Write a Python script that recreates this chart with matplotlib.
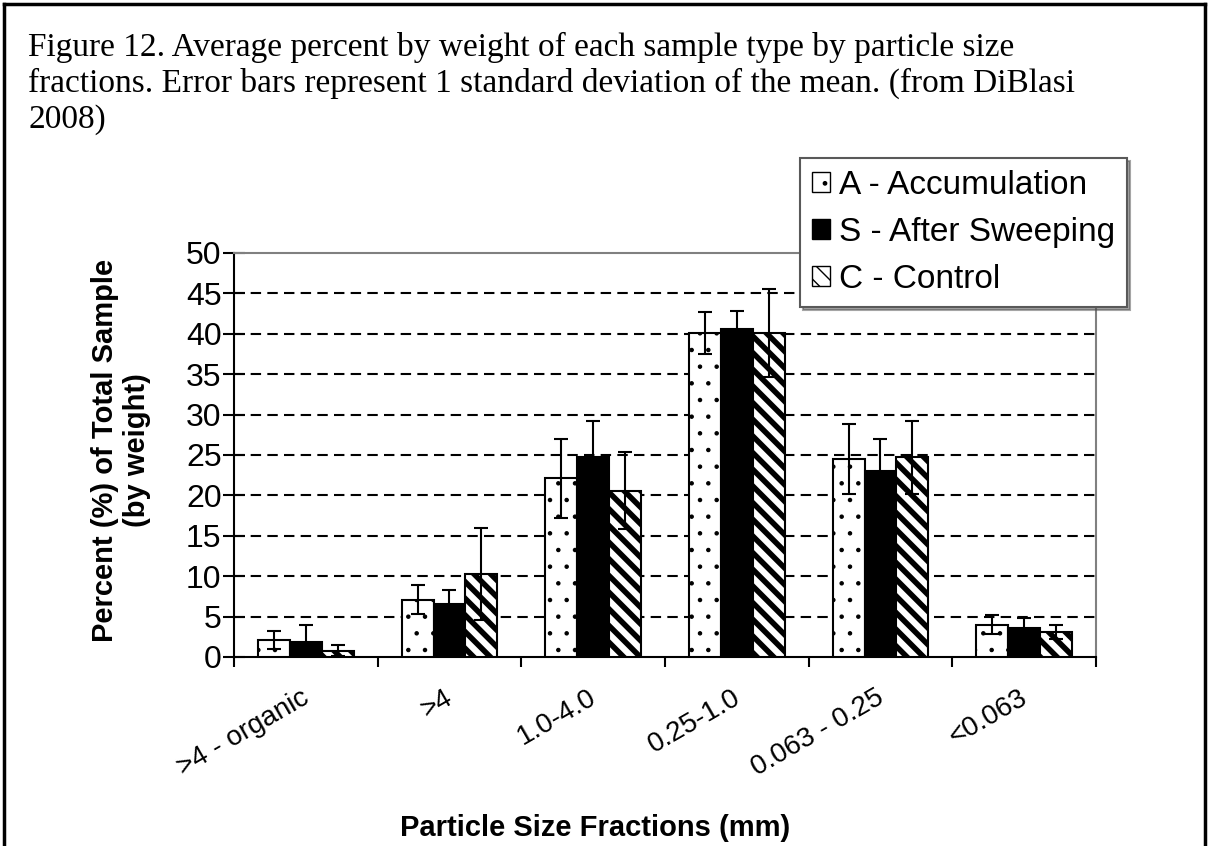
import numpy as np
import matplotlib.pyplot as plt
import matplotlib.transforms as mtransforms
from matplotlib.patches import Patch

# particle size fractions (mm)
categories = [">4 - organic", ">4", "1.0-4.0", "0.25-1.0", "0.063 - 0.25", "<0.063"]

accum = [2.1, 7.1, 22.1, 40.1, 24.5, 4.0]
accum_sd = [1.1, 1.8, 4.9, 2.6, 4.3, 1.2]
sweep = [1.9, 6.6, 24.7, 40.6, 23.0, 3.6]
sweep_sd = [2.0, 1.7, 4.5, 2.2, 4.0, 1.2]
control = [0.8, 10.3, 20.6, 40.1, 24.7, 3.1]
control_sd = [0.7, 5.7, 4.8, 5.4, 4.5, 0.9]

series_names = ["A - Accumulation", "S - After Sweeping", "C - Control"]

plt.rcParams['font.family'] = ['Liberation Sans', 'DejaVu Sans']

fig = plt.figure(figsize=(12.09, 8.46), dpi=100)
ax = fig.add_axes([234 / 1209, 1 - 657 / 846, 862 / 1209, 404 / 846])

x = np.arange(len(categories))
w = 1 / 4.5
err_kw = dict(ecolor='black', elinewidth=1.5, capsize=5, capthick=1.5)

b1 = ax.bar(x - w, accum, w, yerr=accum_sd, color='white', edgecolor='black',
            linewidth=1.5, hatch='.', error_kw=err_kw, zorder=3)
b2 = ax.bar(x, sweep, w, yerr=sweep_sd, color='black', edgecolor='black',
            linewidth=1.5, error_kw=err_kw, zorder=3)
b3 = ax.bar(x + w, control, w, yerr=control_sd, color='white', edgecolor='black',
            linewidth=1.5, hatch='\\\\', error_kw=err_kw, zorder=3)
for p in b1:
    if hasattr(p, 'set_hatch_linewidth'):
        p.set_hatch_linewidth(0.8)
for p in b3:
    if hasattr(p, 'set_hatch_linewidth'):
        p.set_hatch_linewidth(4.0)

ax.set_xlim(-0.5, len(categories) - 0.5)
ax.set_ylim(0, 50)
ax.set_yticks(np.arange(0, 51, 5))
ax.tick_params(axis='y', direction='inout', length=16, width=1.5, labelsize=23, pad=1)

ax.set_xticks(x)
ax.set_xticklabels(categories, rotation=30, ha='right', rotation_mode='anchor', fontsize=20)
ax.set_xticks(np.arange(-0.5, len(categories)), minor=True)
ax.tick_params(axis='x', which='major', length=0, pad=20)
ax.tick_params(axis='x', which='minor', direction='out', length=7, width=1.5)
shift = mtransforms.ScaledTranslation(-5 / 100, 0, fig.dpi_scale_trans)
for lbl in ax.get_xticklabels():
    lbl.set_transform(lbl.get_transform() + shift)

for y in range(5, 50, 5):
    ax.axhline(y, color='black', lw=1.5, dashes=(5, 3), zorder=1)

for s in ['left', 'bottom']:
    ax.spines[s].set_color('black')
    ax.spines[s].set_linewidth(1.5)
for s in ['top', 'right']:
    ax.spines[s].set_color('0.5')
    ax.spines[s].set_linewidth(1.5)

fig.text(121 / 1209, 1 - 450 / 846, "Percent (%) of Total Sample\n(by weight)",
         rotation=90, ha='center', va='center', multialignment='center',
         fontsize=21, fontweight='bold', linespacing=1.15)
fig.text(595 / 1209, 1 - 828 / 846, "Particle Size Fractions (mm)",
         ha='center', va='center', fontsize=21, fontweight='bold')

handles = [Patch(facecolor='white', edgecolor='black', hatch='.'),
           Patch(facecolor='black', edgecolor='black'),
           Patch(facecolor='white', edgecolor='black', hatch='\\\\')]
leg = fig.legend(handles, series_names, loc='upper left',
                 bbox_to_anchor=(800 / 1209, 1 - 158 / 846), fontsize=24,
                 frameon=True, fancybox=False, shadow=True, handlelength=0.55,
                 handleheight=0.55, handletextpad=0.25, labelspacing=0.48,
                 borderpad=0.36, borderaxespad=0)
leg.get_frame().set_edgecolor('0.35')
leg.get_frame().set_linewidth(1.5)

# caption
fig.text(28 / 1209, 1 - 32 / 846,
         "Figure 12. Average percent by weight of each sample type by particle size\n"
         "fractions. Error bars represent 1 standard deviation of the mean. (from DiBlasi\n"
         "2008)", ha='left', va='top', fontsize=24, family='Liberation Serif',
         linespacing=1.21)

# page frame
fig.add_artist(plt.Line2D([4 / 1209, 4 / 1209], [0, 1 - 4 / 846], color='black', lw=2.5))
fig.add_artist(plt.Line2D([4 / 1209, 1205 / 1209], [1 - 4 / 846, 1 - 4 / 846], color='black', lw=2.5))
fig.add_artist(plt.Line2D([1205 / 1209, 1205 / 1209], [0, 1 - 4 / 846], color='black', lw=2.5))

fig.savefig("out.png", dpi=100)
